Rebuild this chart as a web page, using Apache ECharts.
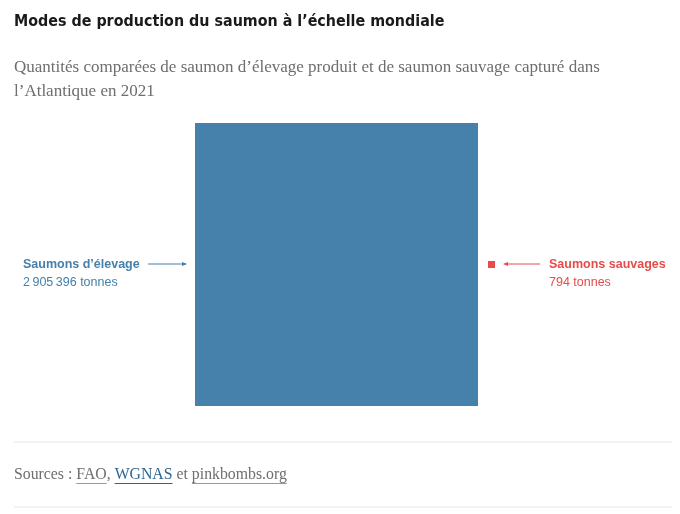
<!DOCTYPE html>
<html>
<head>
    <meta charset="UTF-8">
    <title>Saumon</title>
    <script type="text/javascript" src="https://cdn.jsdelivr.net/npm/echarts@6/dist/echarts.min.js"></script>
</head>
<body style="margin: 0; background: #fff">
<div id="container" style="width: 680px; height: 514px"></div>
<script type="text/javascript">
    const categories = ['Saumons d’élevage', 'Saumons sauvages'];
    const tonnes = [2905396, 794];
    const colors = ['#4581ab', '#e94a4a'];
    const sources = ['FAO', 'WGNAS', 'pinkbombs.org'];

    const sides = tonnes.map(v => Math.sqrt(v));
    const maxSide = Math.max(...sides);

    function fmt(n) {
        return String(n).replace(/\B(?=(\d{3})+(?!\d))/g, '\u202f');
    }

    const dom = document.getElementById('container');
    const myChart = echarts.init(dom);

    const serif = '"Liberation Serif", "DejaVu Serif", serif';
    const sans = '"Liberation Sans", Roboto, sans-serif';
    const srcFont = '15.8px ' + serif;

    // mesure du texte des sources pour placer les soulignements
    const ctx = document.createElement('canvas').getContext('2d');
    ctx.font = srcFont;
    const pieces = ['Sources : ', sources[0], ', ', sources[1], ' et ', sources[2]];
    const underlines = [];
    let x = 14;
    pieces.forEach((p, i) => {
        const w = ctx.measureText(p).width;
        if (i === 1 || i === 3 || i === 5) {
            underlines.push({
                type: 'line',
                shape: {x1: x, y1: 483.5, x2: x + w, y2: 483.5},
                style: {stroke: i === 3 ? '#2f6691' : '#9a9a9a', lineWidth: 1}
            });
        }
        x += w;
    });

    const option = {
        animation: false,
        grid: {left: 195, top: 123, width: 283, height: 283},
        xAxis: {type: 'value', min: 0, max: maxSide, show: false},
        yAxis: {type: 'value', min: 0, max: maxSide, show: false},
        series: [{
            type: 'custom',
            data: tonnes.map((v, i) => [i, sides[i]]),
            renderItem: function (params, api) {
                const i = api.value(0);
                const s = api.value(1);
                if (i === 0) {
                    const p0 = api.coord([0, s]);
                    const p1 = api.coord([s, 0]);
                    return {
                        type: 'rect',
                        shape: {x: p0[0], y: p0[1], width: p1[0] - p0[0], height: p1[1] - p0[1]},
                        style: {fill: colors[0]}
                    };
                }
                // petit carré : taille réelle, 7px minimum pour rester visible
                const px = Math.max(api.size([s, s])[0], 7);
                const right = api.coord([maxSide, maxSide / 2]);
                return {
                    type: 'rect',
                    shape: {x: right[0] + 10, y: right[1] - px / 2, width: px, height: px},
                    style: {fill: colors[1]}
                };
            }
        }],
        graphic: [
            {
                type: 'text', left: 14, top: 14,
                style: {
                    text: 'Modes de production du saumon à l’échelle mondiale',
                    font: 'bold 15.9px "DejaVu Sans Condensed", "Liberation Sans Narrow", sans-serif',
                    fill: '#1a1a1a'
                }
            },
            {
                type: 'text', left: 14, top: 56,
                style: {
                    text: 'Quantités comparées de saumon d’élevage produit et de saumon sauvage capturé dans\nl’Atlantique en 2021',
                    font: '17px ' + serif,
                    lineHeight: 24,
                    fill: '#6e6e6e'
                }
            },
            // libellé gauche
            {
                type: 'text', left: 23, top: 258,
                style: {
                    text: '{b|' + categories[0] + '}\n{n|' + fmt(tonnes[0]) + ' tonnes}',
                    rich: {
                        b: {font: 'bold 12.5px ' + sans, fill: colors[0], lineHeight: 18},
                        n: {font: '12.5px ' + sans, fill: colors[0], lineHeight: 18}
                    }
                }
            },
            {
                type: 'line',
                shape: {x1: 148, y1: 264, x2: 186, y2: 264},
                style: {stroke: colors[0], lineWidth: 1}
            },
            {
                type: 'polygon',
                shape: {points: [[187, 264], [182, 262], [182, 266]]},
                style: {fill: colors[0]}
            },
            // libellé droit
            {
                type: 'text', left: 549, top: 258,
                style: {
                    text: '{b|' + categories[1] + '}\n{n|' + fmt(tonnes[1]) + ' tonnes}',
                    rich: {
                        b: {font: 'bold 12.5px ' + sans, fill: colors[1], lineHeight: 18},
                        n: {font: '12.5px ' + sans, fill: colors[1], lineHeight: 18}
                    }
                }
            },
            {
                type: 'line',
                shape: {x1: 505, y1: 264, x2: 540, y2: 264},
                style: {stroke: colors[1], lineWidth: 1}
            },
            {
                type: 'polygon',
                shape: {points: [[503, 264], [508, 262], [508, 266]]},
                style: {fill: colors[1]}
            },
            // pied
            {
                type: 'line',
                shape: {x1: 14, y1: 442, x2: 672, y2: 442},
                style: {stroke: '#e6e6e6', lineWidth: 1}
            },
            {
                type: 'text', left: 14, top: 467,
                style: {
                    text: '{g|Sources : }{g|' + sources[0] + '}{g|, }{w|' + sources[1] + '}{g| et }{g|' + sources[2] + '}',
                    rich: {
                        g: {font: srcFont, fill: '#6e6e6e'},
                        w: {font: srcFont, fill: '#2f6691'}
                    }
                }
            },
            ...underlines,
            {
                type: 'line',
                shape: {x1: 14, y1: 507, x2: 672, y2: 507},
                style: {stroke: '#e6e6e6', lineWidth: 1}
            }
        ]
    };

    myChart.setOption(option, true);
</script>
</body>
</html>
